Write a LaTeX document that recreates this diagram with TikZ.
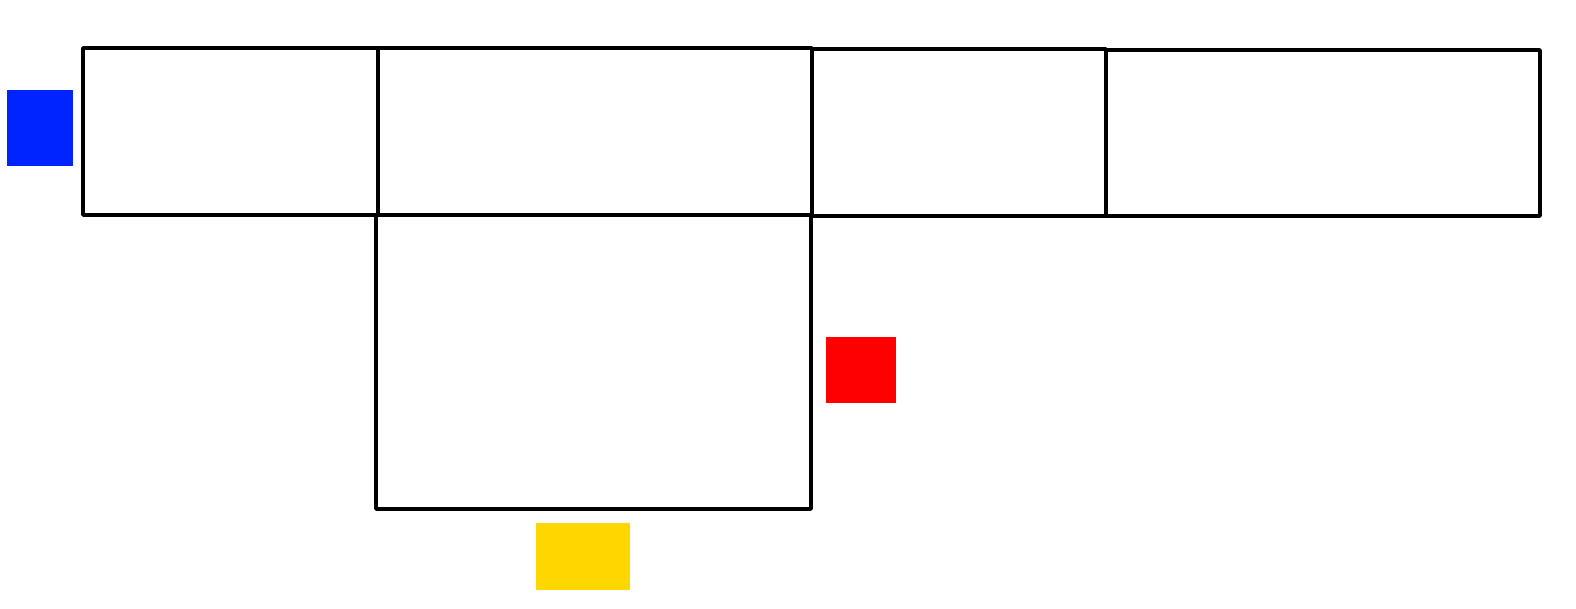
\documentclass[tikz,border=0pt]{standalone}
\usepackage{tikz}
\definecolor{sqblue}{RGB}{0,36,255}
\definecolor{sqred}{RGB}{255,0,0}
\definecolor{sqyellow}{RGB}{255,215,0}
\tikzset{
  face/.style={draw=black, line width=3.6pt, line join=round},
  marker/.style={draw=none}
}
\begin{document}
\begin{tikzpicture}[x=1pt,y=-1pt]
  \useasboundingbox[fill=white] (0,0) rectangle (1576,608);
  % faces of the net
  \draw[face] (83,48) rectangle (378,215);
  \draw[face] (378,48) rectangle (812,215);
  \draw[face] (812,49) rectangle (1106,216);
  \draw[face] (1106,50) rectangle (1540,216);
  \draw[face] (376,215) rectangle (811,509);
  % colored squares
  \fill[marker, sqblue] (7,90) rectangle (73,166);
  \fill[marker, sqred] (826,337) rectangle (896,403);
  \fill[marker, sqyellow] (536,523) rectangle (630,590);
\end{tikzpicture}
\end{document}
